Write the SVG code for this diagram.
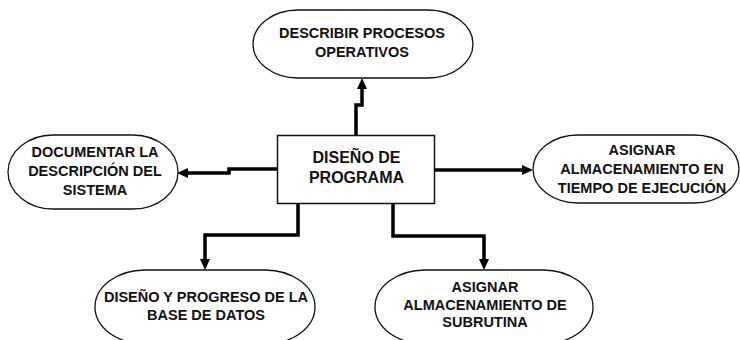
<svg xmlns="http://www.w3.org/2000/svg" width="740" height="340" viewBox="0 0 740 340">
<defs>
<style>
.node{fill:#fff;stroke:#111;stroke-width:1.3}
.box{fill:#fff;stroke:#111;stroke-width:1.5}
.t{font-family:"Liberation Sans",Arial,sans-serif;font-weight:bold;font-size:14.5px;fill:#111;text-anchor:middle}
.tc{font-size:16px}
.conn{fill:none;stroke:#000;stroke-width:3.5;stroke-linejoin:miter}
</style>
<marker id="arr" markerUnits="userSpaceOnUse" markerWidth="12" markerHeight="11" refX="2" refY="5" orient="auto">
<path d="M0,0 L11,5 L0,10 z" fill="#000"/>
</marker>
</defs>
<rect width="740" height="340" fill="#fff"/>
<g id="connectors">
<path class="conn" d="M356,135 V105 H362 V87" marker-end="url(#arr)"/>
<path class="conn" d="M277,169 H229 V173 H186" marker-end="url(#arr)"/>
<path class="conn" d="M434,170 H524" marker-end="url(#arr)"/>
<path class="conn" d="M298,203 V235 H205 V261" marker-end="url(#arr)"/>
<path class="conn" d="M393,203 V236 H484 V261" marker-end="url(#arr)"/>
</g>
<g id="center">
<rect class="box" x="277.5" y="135.5" width="157" height="68"/>
<text class="t tc" x="356.5" y="163">DISEÑO DE</text>
<text class="t tc" x="356.5" y="183">PROGRAMA</text>
</g>
<g id="describir">
<rect class="node" x="253" y="10" width="220" height="68" rx="45" ry="34"/>
<text class="t" x="362" y="38">DESCRIBIR PROCESOS</text>
<text class="t" x="362" y="57">OPERATIVOS</text>
</g>
<g id="documentar">
<rect class="node" x="8" y="135" width="170" height="74" rx="45" ry="37"/>
<text class="t" x="95" y="157">DOCUMENTAR LA</text>
<text class="t" x="95" y="176">DESCRIPCIÓN DEL</text>
<text class="t" x="95" y="195">SISTEMA</text>
</g>
<g id="asignar-ejecucion">
<rect class="node" x="533" y="135" width="206" height="68" rx="45" ry="34"/>
<text class="t" x="642" y="155">ASIGNAR</text>
<text class="t" x="642" y="174">ALMACENAMIENTO EN</text>
<text class="t" x="642" y="193">TIEMPO DE EJECUCIÓN</text>
</g>
<g id="base-datos">
<rect class="node" x="95" y="270" width="220" height="74" rx="50" ry="37"/>
<text class="t" x="206" y="302">DISEÑO Y PROGRESO DE LA</text>
<text class="t" x="206" y="320">BASE DE DATOS</text>
</g>
<g id="subrutina">
<rect class="node" x="375" y="270" width="218" height="74" rx="50" ry="37"/>
<text class="t" x="485" y="292">ASIGNAR</text>
<text class="t" x="485" y="310">ALMACENAMIENTO DE</text>
<text class="t" x="485" y="327">SUBRUTINA</text>
</g>
</svg>
